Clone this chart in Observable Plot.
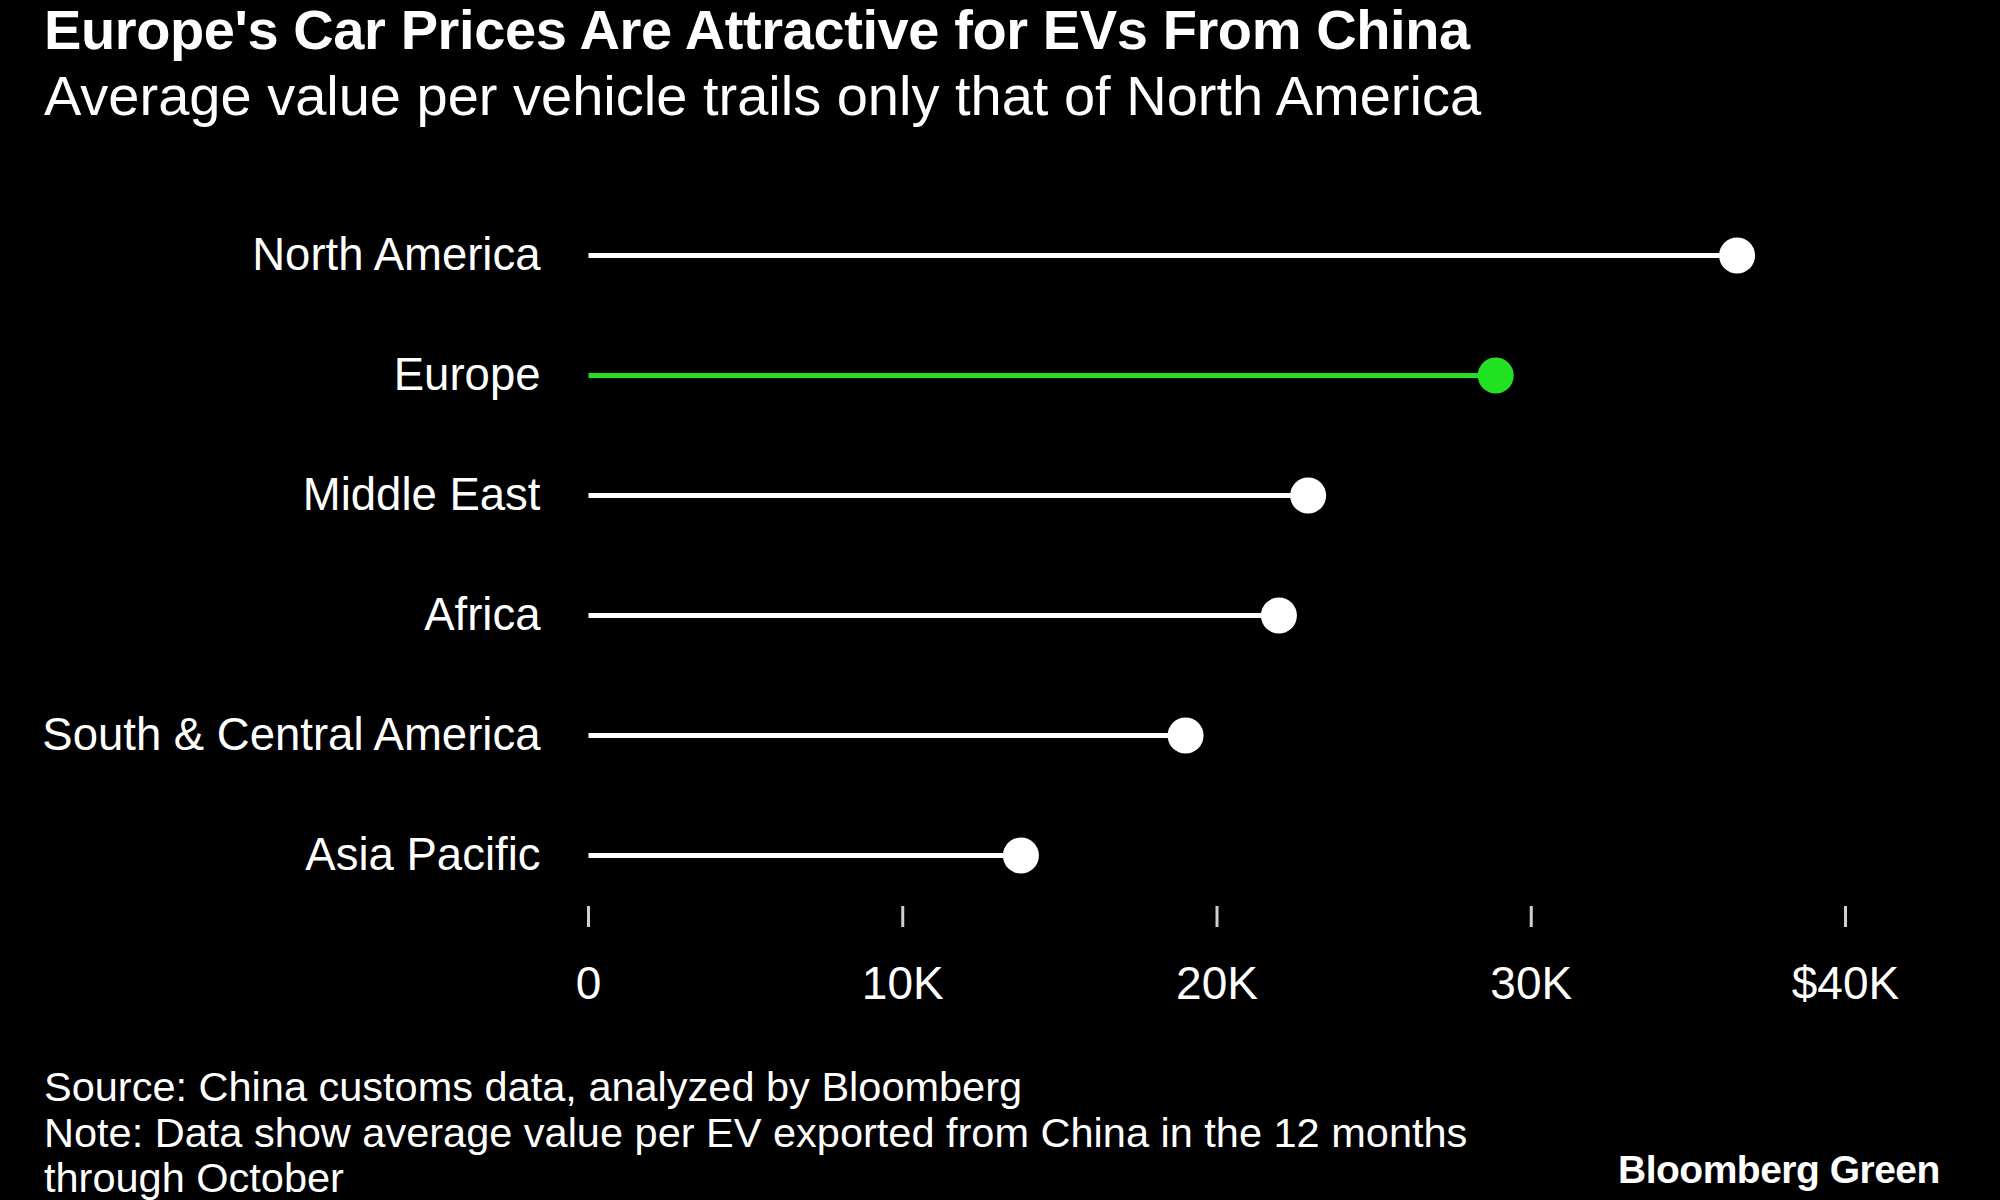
<!DOCTYPE html>
<html>
<head>
<meta charset="utf-8">
<script src="https://cdn.jsdelivr.net/npm/d3@7"></script>
<script src="https://cdn.jsdelivr.net/npm/@observablehq/plot@0.6"></script>
<style>
  html, body { margin: 0; padding: 0; background: #000; }
  body { width: 2000px; height: 1200px; overflow: hidden; position: relative; font-family: "Liberation Sans", Arial, sans-serif; color: #fff; }
  #title { position: absolute; left: 44px; top: -3px; font-size: 56px; font-weight: bold; letter-spacing: -0.4px; white-space: nowrap; }
  #subtitle { position: absolute; left: 44px; top: 63px; font-size: 56px; white-space: nowrap; }
  #chart { position: absolute; left: 0; top: 180px; }
  #footer { position: absolute; left: 44px; top: 1064px; font-size: 41.5px; line-height: 45.5px; white-space: nowrap; }
  #brand { position: absolute; left: 1618px; top: 1148px; font-size: 39px; font-weight: bold; letter-spacing: -0.5px; white-space: nowrap; }
</style>
</head>
<body>
<div id="title">Europe's Car Prices Are Attractive for EVs From China</div>
<div id="subtitle">Average value per vehicle trails only that of North America</div>
<div id="chart"></div>
<div id="footer">Source: China customs data, analyzed by Bloomberg<br>Note: Data show average value per EV exported from China in the 12 months<br>through October</div>
<div id="brand">Bloomberg Green</div>
<script>
const regions = ["North America", "Europe", "Middle East", "Africa", "South & Central America", "Asia Pacific"];
const values = [36550, 28870, 22900, 21970, 19000, 13760];
const highlight = "Europe";
const tickValues = [0, 10000, 20000, 30000, 40000];
const tickLabels = ["0", "10K", "20K", "30K", "$40K"];

const data = regions.map((r, i) => ({region: r, value: values[i]}));
const green = "#22e022";
const colorOf = d => d.region === highlight ? green : "#ffffff";

const chart = Plot.plot({
  width: 2000,
  height: 860,
  marginLeft: 588,
  marginRight: 155,
  marginTop: 0,
  marginBottom: 134,
  style: {background: "#000", color: "#fff", fontFamily: "Liberation Sans, Arial, sans-serif"},
  x: {domain: [0, 40000]},
  y: {domain: regions, range: [75, 675], padding: 0, type: "point"},
  marks: [
    Plot.axisX({
      ticks: tickValues,
      tickFormat: (d) => tickLabels[tickValues.indexOf(d)],
      tickSize: 21,
      tickPadding: 39,
      fontSize: 46,
      stroke: "#d0d0d0",
      strokeWidth: 3,
      fill: "#fff",
      label: null
    }),
    Plot.axisY({
      tickSize: 0,
      tickPadding: 48,
      fontSize: 45.5,
      fill: "#fff",
      label: null
    }),
    Plot.link(data, {
      x1: 0, x2: "value", y1: "region", y2: "region",
      stroke: colorOf,
      strokeWidth: 5
    }),
    Plot.dot(data, {
      x: "value", y: "region",
      r: 18,
      fill: colorOf,
      stroke: "none"
    })
  ]
});
document.getElementById("chart").appendChild(chart);
</script>
</body>
</html>
